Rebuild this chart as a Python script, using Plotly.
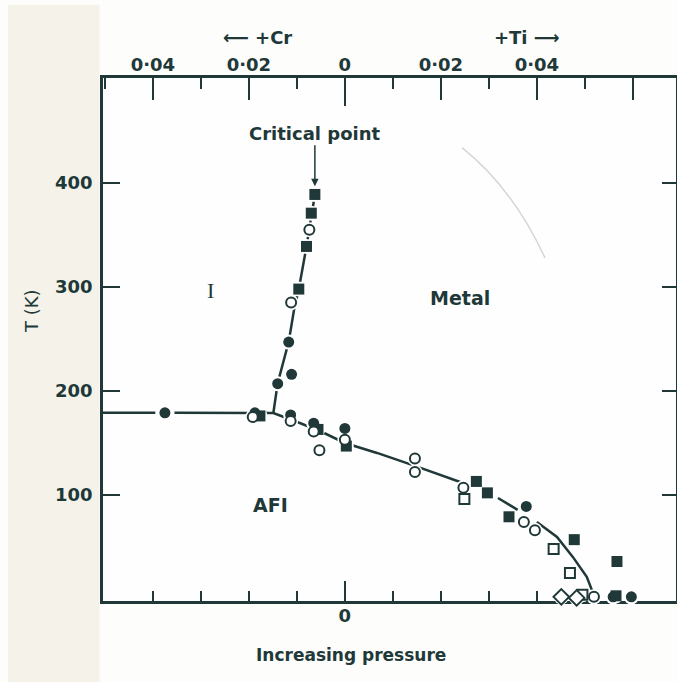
import plotly.graph_objects as go

# ---- data (composition: negative = Cr doping, positive = Ti doping; T in K) ----
x_range = [-0.0504, 0.0690]
t_range = [-2, 501]

# phase boundary: AFI / (I, Metal)
afi_x = [-0.0504, -0.0395, None, -0.0355, -0.0149, -0.0094, -0.0052, 0.0, 0.0067, 0.0146, 0.0246,
         None, 0.0319, 0.0360, None, 0.0400, 0.0442, 0.0475, 0.0504, 0.0517, 0.0519]
afi_T = [179, 179, None, 179, 178.8, 169.2, 161.5, 150, 140.4, 127.9, 111.5,
         None, 97.1, 85.6, None, 74.0, 59.6, 40.4, 21.2, 5.8, 2]

# phase boundary: I / Metal (up to the critical point)
im_x = [-0.0149, -0.0140, -0.0117, -0.0106, -0.0096, -0.0080, -0.0069, -0.0062]
im_T = [178.8, 207.4, 247.4, 277.9, 298.1, 338.8, 370.9, 389.4]

# measured points
fsq_x = [-0.00625, -0.0070, -0.0080, -0.0096, -0.0177, -0.0056, 0.0003, 0.0274, 0.0297, 0.0342, 0.0478, 0.0567, 0.0565]
fsq_T = [389, 371, 339, 298, 176, 163, 147, 113, 102, 79, 57, 36, 3]

fci_x = [-0.0375, -0.01875, -0.0117, -0.0111, -0.0140, -0.0113, -0.0065, 0.0, 0.0378, 0.0559, 0.0597]
fci_T = [179, 179, 247, 216, 207, 177, 169, 164, 89, 2, 2]

oci_x = [-0.0074, -0.0112, -0.0192, -0.0113, -0.0065, -0.0053, 0.0, 0.0146, 0.0146, 0.0247, 0.0373, 0.0396, 0.0519]
oci_T = [355, 285, 175, 171, 161, 143, 153, 135, 122, 107, 74, 66, 2]

osq_x = [0.0249, 0.0435, 0.0469, 0.0495]
osq_T = [96, 48, 25, 4]

odi_x = [0.0451, 0.0483]
odi_T = [2, 1]

top_vals = [-0.04, -0.02, 0, 0.02, 0.04, 0.06]
top_text = ["0·04", "0·02", "0", "0·02", "0·04", ""]
top_minor = [-0.05, -0.03, -0.01, 0.01, 0.03, 0.05]
bot_minor = [-0.04, -0.03, -0.02, -0.01, 0.01, 0.02, 0.03, 0.04, 0.05, 0.06]
t_ticks = [100, 200, 300, 400]

INK = "#203838"
FONT = "DejaVu Sans"

fig = go.Figure()

# boundary lines
fig.add_trace(go.Scatter(x=afi_x, y=afi_T, mode="lines", line=dict(color=INK, width=2.5),
                         connectgaps=False, hoverinfo="skip", showlegend=False))
fig.add_trace(go.Scatter(x=im_x, y=im_T, mode="lines", line=dict(color=INK, width=2.5),
                         hoverinfo="skip", showlegend=False))

# white halos so lines break around the symbols
all_x = fsq_x + fci_x + oci_x + osq_x + odi_x
all_T = fsq_T + fci_T + oci_T + osq_T + odi_T
fig.add_trace(go.Scatter(x=all_x, y=all_T, mode="markers", cliponaxis=False,
                         marker=dict(symbol="circle", size=15, color="white", line=dict(width=0)),
                         hoverinfo="skip", showlegend=False))

def pts(x, y, symbol, size, fill, lw):
    fig.add_trace(go.Scatter(x=x, y=y, mode="markers", cliponaxis=False,
                             marker=dict(symbol=symbol, size=size, color=fill,
                                         line=dict(color=INK, width=lw)),
                             hoverinfo="skip", showlegend=False))

pts(osq_x, osq_T, "square", 10, "white", 2)
pts(odi_x, odi_T, "diamond", 12, "white", 2)
pts(fsq_x, fsq_T, "square", 11, INK, 0)
pts(fci_x, fci_T, "circle", 11, INK, 0)
pts(oci_x, oci_T, "circle", 10, "white", 2)

# dummy traces so that the extra axes are drawn
fig.add_trace(go.Scatter(x=[0], y=[-100], xaxis="x2", yaxis="y", mode="markers",
                         marker=dict(opacity=0), hoverinfo="skip", showlegend=False))
fig.add_trace(go.Scatter(x=[0], y=[-100], xaxis="x", yaxis="y2", mode="markers",
                         marker=dict(opacity=0), hoverinfo="skip", showlegend=False))
fig.add_trace(go.Scatter(x=[0], y=[-100], xaxis="x3", yaxis="y", mode="markers",
                         marker=dict(opacity=0), hoverinfo="skip", showlegend=False))

tickfont = dict(family=FONT, size=18, color=INK, weight="bold")

fig.update_layout(
    width=677, height=682,
    margin=dict(l=103, r=1, t=78, b=81),
    paper_bgcolor="#fdfdfb", plot_bgcolor="#fefefe",
    showlegend=False,
    xaxis=dict(range=x_range, showgrid=False, zeroline=False, showline=True, linecolor=INK,
               linewidth=2.5, ticks="inside", tickvals=[0], ticktext=["0"], ticklen=20,
               tickwidth=1.6, tickcolor=INK, tickfont=tickfont, layer="below traces",
               ticklabelstandoff=-3,
               minor=dict(tickmode="array", tickvals=bot_minor, ticks="inside", ticklen=10,
                          tickwidth=1.6, tickcolor=INK, showgrid=False)),
    xaxis2=dict(range=x_range, overlaying="x", side="top", showgrid=False, zeroline=False,
                showline=True, linecolor=INK, linewidth=2.5, ticks="inside", tickvals=top_vals,
                ticktext=top_text, ticklen=22, tickwidth=1.6, tickcolor=INK, tickfont=tickfont,
                layer="below traces", ticklabelstandoff=-3,
                minor=dict(tickmode="array", tickvals=top_minor, ticks="inside", ticklen=11,
                           tickwidth=1.6, tickcolor=INK, showgrid=False)),
    xaxis3=dict(range=x_range, overlaying="x", side="top", showgrid=False, zeroline=False,
                showline=False, ticks="inside", tickvals=[0], ticklen=28, tickwidth=1.6,
                tickcolor=INK, showticklabels=False, layer="below traces"),
    yaxis=dict(range=t_range, showgrid=False, zeroline=False, showline=True, linecolor=INK,
               linewidth=2.5, ticks="inside", tickvals=t_ticks, ticklen=17, tickwidth=1.6,
               tickcolor=INK, tickfont=tickfont, layer="below traces", ticklabelstandoff=4),
    yaxis2=dict(range=t_range, overlaying="y", side="right", showgrid=False, zeroline=False,
                showline=True, linecolor=INK, linewidth=2.5, ticks="inside", tickvals=t_ticks,
                ticklen=14, tickwidth=1.6, tickcolor=INK, showticklabels=False,
                layer="below traces"),
)

# paper tint on the left strip of the scanned page
fig.add_shape(type="rect", xref="paper", yref="paper", x0=-0.166, x1=-0.006, y0=-0.155, y1=1.14,
              fillcolor="#f5f2ea", line=dict(width=0), layer="below")
# faint crease in the scan
fig.add_shape(type="path", xref="x", yref="y", path="M 0.0244 434 Q 0.0350 395 0.0417 328",
              line=dict(color="#d6d6d6", width=1.5), layer="below")

ann_font = dict(family=FONT, size=18, color=INK, weight="bold")

def note(x, y, text, ref="x", size=18, family=FONT, weight="bold", angle=0):
    fig.add_annotation(x=x, y=y, xref=ref, yref=("y" if ref == "x" else "paper"), text=text,
                       showarrow=False, xanchor="center", yanchor="middle", textangle=angle,
                       font=dict(family=family, size=size, color=INK, weight=weight))

fig.add_annotation(x=-0.00625, y=397, xref="x", yref="y", text="Critical point", showarrow=True,
                   ax=0, ay=-53, arrowhead=2, arrowsize=1, arrowwidth=1.5, arrowcolor=INK,
                   standoff=0, font=ann_font)
note(-0.0281, 297, "I", size=22, family="Liberation Serif", weight="normal")
note(0.0240, 289, "Metal", size=19)
note(-0.0156, 90, "AFI", size=19)
note(-0.124, 0.5545, "T (K)", ref="paper", size=18, weight="normal", angle=-90)
note(0.2705, 1.0765, "⟵ +Cr", ref="paper", size=18)
note(0.740, 1.0765, "+Ti ⟶", ref="paper", size=18)
note(0.433, -0.103, "Increasing pressure", ref="paper", size=17)

fig.write_html("out.html")
